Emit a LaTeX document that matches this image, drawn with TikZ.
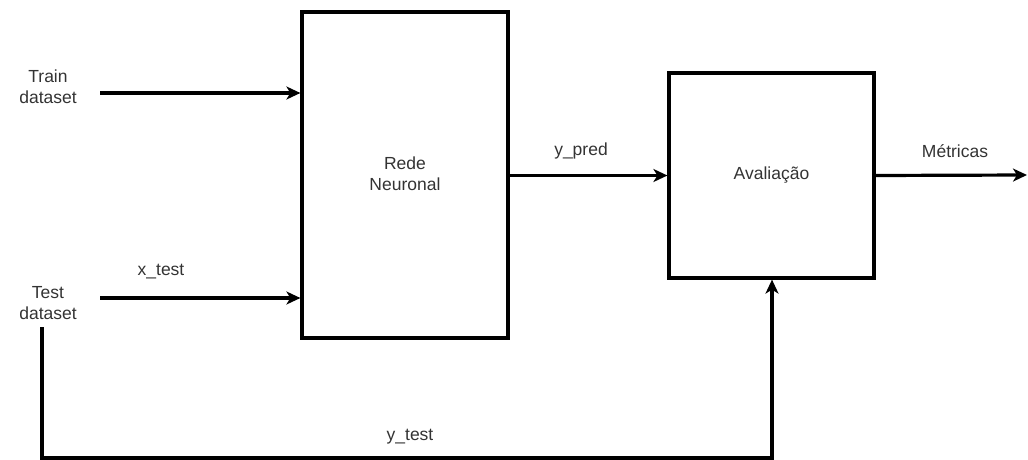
\documentclass[tikz,border=0pt]{standalone}
\usepackage{fontspec}
\setmainfont{Liberation Sans}
\usetikzlibrary{arrows.meta}
\definecolor{txt}{HTML}{333333}
\begin{document}
\begin{tikzpicture}[x=1pt,y=-1pt,
  blk/.style={draw=black,line width=3.2pt,inner sep=0pt},
  conn/.style={line width=3.2pt,-{Stealth[length=14pt,width=13pt,inset=4pt]}},
  lbl/.style={text=txt,font=\fontsize{17.5}{21}\selectfont,align=center,inner sep=0pt}]
\useasboundingbox (0,0) rectangle (1028,460);
\node[blk,minimum width=206pt,minimum height=326pt] (nn) at (405,175) {};
\node[lbl] (nnt) at (405,174) {Rede\\Neuronal};
\node[blk,minimum width=205pt,minimum height=205pt] (av) at (771.5,175.5) {};
\node[lbl] (avt) at (771.5,175) {Avaliação};
\node[lbl] (train) at (48,87) {Train\\dataset};
\node[lbl] (test) at (48,303) {Test\\dataset};
\coordinate (tr0) at (100,93);
\coordinate (xt0) at (100,298);
\coordinate (ts0) at (42,327);
\coordinate (c1) at (42,458);
\coordinate (c2) at (772,458);
\coordinate (out) at (1027,175);
\draw[conn] (tr0) -- (nn.west |- tr0);
\draw[conn] (xt0) -- (nn.west |- xt0);
\draw[conn] (nn.east |- av.west) -- (av.west);
\draw[conn] (av.east) -- (out);
\draw[conn,line join=miter] (ts0) -- (c1) -- (c2) -- (c2 |- av.south);
\node[lbl] (xl) at (161,272) {x\_test};
\node[lbl] (yp) at (581,151) {y\_pred};
\node[lbl] (mt) at (955,151) {Métricas};
\node[lbl] (yt) at (410,437) {y\_test};
\end{tikzpicture}
\end{document}
